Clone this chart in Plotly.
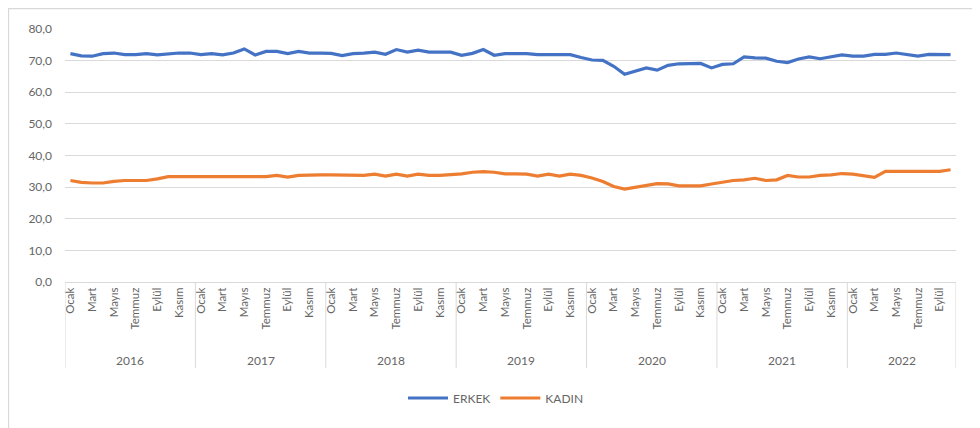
import plotly.graph_objects as go

years = ["2016", "2017", "2018", "2019", "2020", "2021", "2022"]
months = ["Ocak", "Şubat", "Mart", "Nisan", "Mayıs", "Haziran",
          "Temmuz", "Ağustos", "Eylül", "Ekim", "Kasım", "Aralık"]
months_per_year = [12, 12, 12, 12, 12, 12, 10]

erkek = [72.2, 71.5, 71.4, 72.2, 72.4, 71.9, 71.9, 72.2, 71.8, 72.2, 72.4, 72.4,
         71.9, 72.2, 71.8, 72.4, 73.7, 71.8, 72.9, 72.9, 72.2, 72.9, 72.4, 72.4,
         72.3, 71.6, 72.2, 72.4, 72.7, 72.0, 73.5, 72.7, 73.3, 72.7, 72.7, 72.7,
         71.7, 72.3, 73.5, 71.7, 72.2, 72.3, 72.2, 71.9, 71.9, 71.9, 71.9, 71.0,
         70.2, 70.1, 68.2, 65.7, 66.8, 67.7, 67.0, 68.5, 69.0, 69.1, 69.1, 67.7,
         68.8, 69.0, 71.2, 70.9, 70.8, 69.8, 69.4, 70.5, 71.2, 70.6, 71.2, 71.8,
         71.4, 71.4, 72.0, 72.0, 72.4, 71.9, 71.4, 72.0, 71.9, 71.9]

kadin = [32.1, 31.5, 31.3, 31.3, 31.8, 32.1, 32.1, 32.1, 32.6, 33.3, 33.3, 33.3,
         33.3, 33.3, 33.3, 33.3, 33.3, 33.3, 33.3, 33.7, 33.2, 33.7, 33.9, 33.9,
         33.9, 33.9, 33.7, 33.7, 34.1, 33.5, 34.1, 33.5, 34.1, 33.7, 33.7, 33.9,
         34.2, 34.7, 34.9, 34.7, 34.2, 34.2, 34.1, 33.5, 34.1, 33.5, 34.1, 33.7,
         32.9, 31.8, 30.2, 29.4, 29.9, 30.4, 31.1, 31.0, 30.4, 30.4, 30.4, 31.0,
         31.5, 32.1, 32.3, 32.8, 32.1, 32.3, 33.7, 33.2, 33.2, 33.7, 33.9, 34.3,
         34.1, 33.7, 33.1, 35.0, 35.0, 35.0, 35.0, 35.0, 35.0, 35.5]

y_ticks = [0, 10, 20, 30, 40, 50, 60, 70, 80]

# category index positions
labels = []
for yr, n in zip(years, months_per_year):
    for m in range(n):
        labels.append((yr, months[m]))
idx = list(range(len(labels)))

tick_idx = [i for i, (yr, m) in enumerate(labels) if months.index(m) % 2 == 0]
tick_txt = [labels[i][1] for i in tick_idx]

grey = "#666666"
font_family = "Lato, 'Open Sans', sans-serif"

fig = go.Figure()
fig.add_trace(go.Scatter(x=idx, y=erkek, mode="lines", name="ERKEK",
                         line=dict(color="#4472C4", width=3.2)))
fig.add_trace(go.Scatter(x=idx, y=kadin, mode="lines", name="KADIN",
                         line=dict(color="#ED7D31", width=3.2)))

OFF = 8  # page body margin
W, H = 972, 420
ml, mr, mt, mb = 57, 24, 21, 146
pw, ph = W - ml - mr, H - mt - mb

def px_x(p):
    return (p - OFF - ml) / pw

def px_y(p):
    return (H - mb - (p - OFF)) / ph

shapes = []
annotations = []
# year separators and labels
start = 0
bounds = [-0.5]
for yr, n in zip(years, months_per_year):
    end = start + n
    bounds.append(end - 0.5)
    annotations.append(dict(x=(start + end - 1) / 2, y=px_y(360), xref="x", yref="paper",
                            text=yr, showarrow=False, xanchor="center", yanchor="middle",
                            font=dict(size=12, color=grey, family=font_family)))
    start = end
for b in bounds:
    shapes.append(dict(type="line", xref="x", yref="paper", x0=b, x1=b,
                       y0=0, y1=px_y(368), line=dict(color="#d9d9d9", width=1)))
# outer chart border
shapes.append(dict(type="rect", xref="paper", yref="paper",
                   x0=-ml / pw + 0.5 / pw, x1=px_x(1000), y0=px_y(450),
                   y1=1 + (mt - 0.7) / ph,
                   line=dict(color="#d9d9d9", width=1.3), layer="below"))

fig.update_layout(
    width=W, height=H,
    margin=dict(l=ml, r=mr, t=mt, b=mb, autoexpand=False),
    paper_bgcolor="white", plot_bgcolor="white",
    separators=",.",
    font=dict(family=font_family, color=grey, size=11.5),
    showlegend=True,
    legend=dict(orientation="h", x=px_x(496), xanchor="center", y=px_y(398),
                yanchor="middle", font=dict(size=12, color=grey),
                itemwidth=40, bgcolor="rgba(0,0,0,0)"),
    xaxis=dict(range=[-0.5, len(idx) - 0.5], tickmode="array", tickvals=tick_idx,
               ticktext=tick_txt, tickangle=-90, showgrid=False, zeroline=False,
               showline=True, linecolor="#d9d9d9", linewidth=1, ticks="",
               automargin=False, tickfont=dict(size=11.5, color=grey)),
    yaxis=dict(range=[0, 80], tickmode="array", tickvals=y_ticks, tickformat=".1f",
               showgrid=True, gridcolor="#d9d9d9", gridwidth=1, zeroline=False,
               showline=False, ticks="", ticklabelstandoff=12, automargin=False,
               tickfont=dict(size=12, color=grey)),
    shapes=shapes, annotations=annotations,
)

fig.write_html("out.html")
